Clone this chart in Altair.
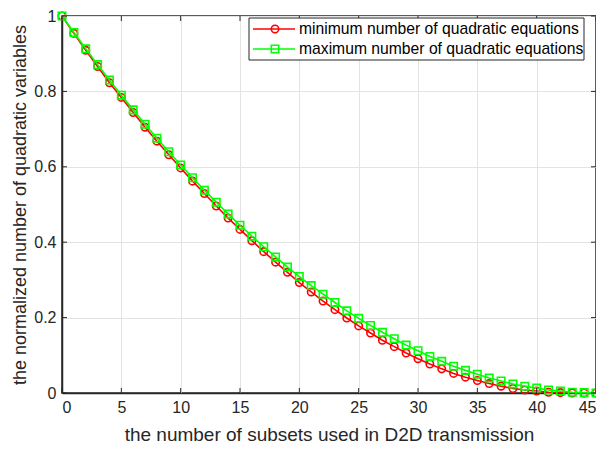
import altair as alt
import pandas as pd

# ---- data ----
x_vals = list(range(46))
min_eq = [1.000, 0.954, 0.909, 0.866, 0.823, 0.784, 0.744, 0.705, 0.668, 0.632,
          0.597, 0.562, 0.529, 0.496, 0.464, 0.434, 0.404, 0.375, 0.347, 0.320,
          0.293, 0.268, 0.244, 0.221, 0.199, 0.178, 0.159, 0.140, 0.123, 0.106,
          0.091, 0.077, 0.064, 0.052, 0.042, 0.033, 0.025, 0.018, 0.012, 0.008,
          0.005, 0.002, 0.001, 0.000, 0.000, 0.000]
max_eq = [1.000, 0.956, 0.913, 0.871, 0.830, 0.790, 0.751, 0.713, 0.676, 0.640,
          0.605, 0.571, 0.538, 0.506, 0.475, 0.445, 0.416, 0.388, 0.361, 0.334,
          0.309, 0.285, 0.262, 0.240, 0.218, 0.198, 0.179, 0.161, 0.144, 0.127,
          0.112, 0.097, 0.084, 0.071, 0.060, 0.050, 0.040, 0.032, 0.024, 0.018,
          0.013, 0.008, 0.005, 0.002, 0.001, 0.000]
series_names = ["minimum number of quadratic equations",
                "maximum number of quadratic equations"]
series_colors = ["#ff0000", "#00ff00"]
series_shapes = ["circle", "square"]
x_ticks = [0, 5, 10, 15, 20, 25, 30, 35, 40, 45]
y_ticks = [0, 0.2, 0.4, 0.6, 0.8, 1]
x_title = "the number of subsets used in D2D transmission"
y_title = "the normalized number of quadratic variables"

W, H = 534, 377
FONT = "Liberation Sans"
DARK = "#262626"

df = pd.DataFrame({
    "x": x_vals * 2,
    "y": min_eq + max_eq,
    "series": [series_names[0]] * len(x_vals) + [series_names[1]] * len(x_vals),
})

xs = alt.Scale(domain=[0, 45], nice=False, zero=False)
ys = alt.Scale(domain=[0, 1], nice=False, zero=False)

x_enc = alt.X("x:Q", scale=xs, axis=alt.Axis(values=x_ticks, title=x_title, ticks=False,
                                              labelPadding=6, titlePadding=10, format="~g",
                                              titleFontSize=19))
y_enc = alt.Y("y:Q", scale=ys, axis=alt.Axis(values=y_ticks, title=y_title, ticks=False,
                                              labelPadding=6, titlePadding=4, format="~g"))

layers = []
for name, col, shp in zip(series_names, series_colors, series_shapes):
    b = alt.Chart(df).transform_filter(alt.datum.series == name)
    layers.append(b.mark_line(color=col, strokeWidth=1.6).encode(x=x_enc, y=y_enc))
    layers.append(b.mark_point(color=col, shape=shp, filled=False, size=55,
                               strokeWidth=1.6, opacity=1).encode(x=x_enc, y=y_enc))

# inward ticks (MATLAB style)
xt = pd.DataFrame({"v": x_ticks})
yt = pd.DataFrame({"v": y_ticks})
tick_len = 5
layers.append(alt.Chart(xt).mark_rule(color=DARK, strokeWidth=1).encode(
    x=alt.X("v:Q", scale=xs), y=alt.value(H), y2=alt.value(H - tick_len)))
layers.append(alt.Chart(xt).mark_rule(color=DARK, strokeWidth=1).encode(
    x=alt.X("v:Q", scale=xs), y=alt.value(0), y2=alt.value(tick_len)))
layers.append(alt.Chart(yt).mark_rule(color=DARK, strokeWidth=1).encode(
    y=alt.Y("v:Q", scale=ys), x=alt.value(0), x2=alt.value(tick_len)))
layers.append(alt.Chart(yt).mark_rule(color=DARK, strokeWidth=1).encode(
    y=alt.Y("v:Q", scale=ys), x=alt.value(W), x2=alt.value(W - tick_len)))

# legend (manual, MATLAB style)
one = pd.DataFrame({"k": [0]})
LX0, LX1, LY0, LY1 = 187, 522, 2, 44
row_y = [13, 33]
layers.append(alt.Chart(one).mark_rect(fill="white", stroke=DARK, strokeWidth=1).encode(
    x=alt.value(LX0), x2=alt.value(LX1), y=alt.value(LY0), y2=alt.value(LY1)))
for name, col, shp, ry in zip(series_names, series_colors, series_shapes, row_y):
    ldf = pd.DataFrame({"name": [name]})
    layers.append(alt.Chart(ldf).mark_rule(color=col, strokeWidth=1.6).encode(
        x=alt.value(LX0 + 4), x2=alt.value(LX0 + 46), y=alt.value(ry)))
    layers.append(alt.Chart(ldf).mark_point(color=col, shape=shp, filled=False, size=55,
                                            strokeWidth=1.6, opacity=1).encode(
        x=alt.value(LX0 + 26), y=alt.value(ry)))
    layers.append(alt.Chart(ldf).mark_text(align="left", baseline="middle", font=FONT,
                                           fontSize=15.7, color="black").encode(
        x=alt.value(LX0 + 50), y=alt.value(ry), text="name:N"))

chart = alt.layer(*layers).properties(
    width=W, height=H,
    autosize=alt.AutoSizeParams(type="none"),
    padding={"left": 54, "top": 8, "right": 0, "bottom": 53},
).configure_view(
    stroke=DARK, strokeWidth=1.5
).configure_axis(
    grid=True, gridColor="#e3e3e3", gridWidth=1,
    domainColor=DARK, domainWidth=1.5,
    labelFont=FONT, labelFontSize=16, labelColor=DARK,
    titleFont=FONT, titleFontSize=18, titleFontWeight="normal", titleColor=DARK,
)

chart.save("out.html", embed_options={"renderer": "svg", "actions": False})
